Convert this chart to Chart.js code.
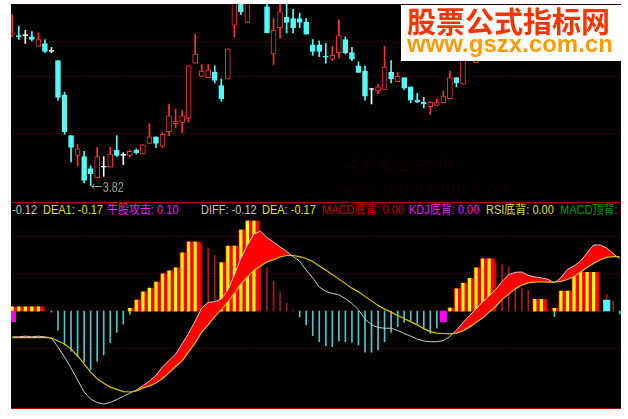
<!DOCTYPE html>
<html>
<head>
<meta charset="utf-8">
<script src="https://cdn.jsdelivr.net/npm/chart.js@4.4.1/dist/chart.umd.min.js"></script>
<style>
  html, body { margin: 0; padding: 0; background: #fff; }
  #wrap { position: absolute; left: 11px; top: 4px; width: 610px; height: 405px; background: #000; overflow: hidden; }
  #kline { position: absolute; left: -2px; top: 0; }
  #macd { position: absolute; left: -2px; top: 211px; }
  .rule { position: absolute; left: 0; width: 610px; height: 1px; background: #b00000; }
  #labels { position: absolute; left: 0; top: 199px; width: 700px; height: 14px; font: 12.5px "Liberation Sans", "Noto Sans CJK SC", sans-serif; line-height: 14px; white-space: nowrap; }
  #labels span { position: absolute; top: 0; transform: scaleX(0.88); transform-origin: 0 0; }
</style>
</head>
<body>
<div id="wrap">
  <canvas id="kline" width="614" height="198"></canvas>
  <div class="rule" style="top:198px"></div>
  <div id="labels">
    <span style="left:1px;color:#c8c8c8">-0.12</span>
    <span style="left:32px;color:#e0e000">DEA1: -0.17</span>
    <span style="left:96px;color:#f020f0">牛股攻击: 0.10</span>
    <span style="left:190px;color:#c8c8c8">DIFF: -0.12</span>
    <span style="left:251px;color:#e0e000">DEA: -0.17</span>
    <span style="left:311px;color:#d00000">MACD底背: 0.00</span>
    <span style="left:398px;color:#f020f0">KDJ底背: 0.00</span>
    <span style="left:475px;color:#e0e000">RSI底背: 0.00</span>
    <span style="left:549px;color:#00a000">MACD顶背: 0.00</span>
  </div>
  <canvas id="macd" width="614" height="193"></canvas>
  <div class="rule" style="top:404px"></div>
</div>
<script>
// price data (the last bars sit under the banner, not readable)
const open = [4.97, 4.96, 4.96, 4.95, 4.88, 4.90, 4.84, 4.77, 4.51, 4.20,
  4.05, 4.04, 3.95, 3.88, 3.96, 3.96, 4.09, 4.05, 4.05, 4.09,
  4.06, 4.14, 4.19, 4.12, 4.23, 4.29, 4.30, 4.33, 4.75, 4.65,
  4.64, 4.68, 4.58, 4.63, 5.04, 5.29, 5.06, 5.30, 5.40, 5.18,
  4.82, 5.02, 5.10, 5.09, 5.09, 5.06, 4.89, 4.89, 4.80, 4.78,
  4.83, 4.93, 4.83, 4.73, 4.69, 4.55, 4.54, 4.55, 4.68, 4.61,
  4.64, 4.57, 4.47, 4.455, 4.42, 4.43, 4.45, 4.48, 4.64, 4.59,
  4.85, 4.755];
const high = [5.12, 5.03, 5.00, 4.99, 4.98, 4.93, 4.87, 4.77, 4.53, 4.20,
  4.13, 4.08, 3.97, 4.11, 4.04, 4.11, 4.20, 4.07, 4.09, 4.10,
  4.13, 4.29, 4.19, 4.22, 4.44, 4.40, 4.39, 4.73, 4.97, 4.74,
  4.74, 4.73, 4.63, 4.86, 5.28, 5.32, 5.30, 5.45, 5.45, 5.24,
  5.09, 5.22, 5.22, 5.16, 5.13, 5.09, 4.93, 4.92, 4.90, 4.88,
  5.08, 4.95, 4.87, 4.76, 4.73, 4.56, 4.59, 4.88, 4.77, 4.68,
  4.64, 4.57, 4.52, 4.49, 4.46, 4.48, 4.54, 4.69, 4.64, 4.92,
  5.08, 5.00];
const low = [4.95, 4.93, 4.90, 4.92, 4.88, 4.83, 4.83, 4.47, 4.21, 4.00,
  3.97, 3.84, 3.82, 3.88, 3.89, 3.96, 4.04, 3.98, 4.04, 4.06,
  4.06, 4.14, 4.11, 4.11, 4.20, 4.26, 4.22, 4.30, 4.75, 4.65,
  4.64, 4.60, 4.46, 4.63, 4.95, 5.12, 5.06, 5.28, 5.25, 4.98,
  4.74, 4.94, 4.98, 4.98, 5.02, 4.97, 4.81, 4.80, 4.75, 4.77,
  4.79, 4.82, 4.77, 4.68, 4.47, 4.44, 4.52, 4.55, 4.60, 4.61,
  4.55, 4.45, 4.45, 4.41, 4.36, 4.43, 4.45, 4.48, 4.57, 4.59,
  4.82, 4.755];
const close = [4.98, 4.95, 4.96, 4.93, 4.93, 4.84, 4.84, 4.49, 4.23, 4.11,
  4.10, 3.86, 3.91, 4.04, 3.96, 4.06, 4.05, 4.05, 4.08, 4.07,
  4.13, 4.19, 4.14, 4.21, 4.35, 4.31, 4.35, 4.73, 4.82, 4.69,
  4.70, 4.62, 4.48, 4.86, 5.25, 5.14, 5.27, 5.40, 5.32, 4.98,
  5.00, 5.14, 5.06, 5.02, 5.06, 4.97, 4.84, 4.84, 4.795, 4.81,
  4.96, 4.83, 4.78, 4.68, 4.50, 4.55, 4.57, 4.72, 4.63, 4.65,
  4.56, 4.47, 4.455, 4.44, 4.455, 4.45, 4.50, 4.64, 4.60, 4.89,
  5.05, 4.95];
const priceGrid = [5.20, 4.92, 4.65, 4.22];

// indicator panel
const dif = [-0.069, -0.069, -0.067, -0.069, -0.067, -0.069, -0.072, -0.096, -0.123, -0.152,
  -0.184, -0.216, -0.235, -0.244, -0.248, -0.244, -0.236, -0.228, -0.219, -0.211,
  -0.199, -0.187, -0.172, -0.149, -0.132, -0.115, -0.088, -0.059, -0.027, 0.008,
  0.023, 0.025, 0.032, 0.056, 0.096, 0.141, 0.176, 0.205, 0.213, 0.196,
  0.184, 0.171, 0.159, 0.145, 0.133, 0.109, 0.088, 0.064, 0.052, 0.047,
  0.043, 0.033, 0.020, 0.003, -0.021, -0.037, -0.044, -0.046, -0.046, -0.052,
  -0.060, -0.067, -0.075, -0.080, -0.082, -0.082, -0.079, -0.068, -0.051, -0.031,
  -0.012, 0.005, 0.024, 0.040, 0.057, 0.079, 0.097, 0.103, 0.104, 0.095,
  0.091, 0.088, 0.085, 0.075, 0.089, 0.111, 0.120, 0.133, 0.155, 0.176,
  0.176, 0.168, 0.153, 0.139];
const dea = [-0.071, -0.071, -0.071, -0.071, -0.071, -0.071, -0.072, -0.080, -0.088, -0.101,
  -0.120, -0.141, -0.163, -0.181, -0.193, -0.203, -0.209, -0.215, -0.216, -0.213,
  -0.205, -0.200, -0.192, -0.180, -0.165, -0.148, -0.133, -0.109, -0.085, -0.056,
  -0.037, -0.015, 0.003, 0.024, 0.047, 0.072, 0.091, 0.109, 0.120, 0.131,
  0.137, 0.144, 0.148, 0.148, 0.145, 0.140, 0.132, 0.120, 0.109, 0.097,
  0.085, 0.073, 0.061, 0.051, 0.039, 0.027, 0.015, 0.005, -0.003, -0.012,
  -0.020, -0.029, -0.037, -0.047, -0.055, -0.059, -0.060, -0.061, -0.059, -0.053,
  -0.043, -0.031, -0.019, -0.003, 0.012, 0.031, 0.045, 0.059, 0.069, 0.075,
  0.077, 0.078, 0.077, 0.077, 0.079, 0.084, 0.092, 0.104, 0.116, 0.127,
  0.136, 0.143, 0.145, 0.145];
const macd = [0.005, 0.005, 0.006, 0.005, 0.006, 0.004,
  -0.003, -0.051, -0.091, -0.107, -0.123, -0.136, -0.156, -0.134, -0.117, -0.085, -0.057, -0.035, -0.009,
  0.01, 0.03, 0.05, 0.07, 0.09, 0.10, 0.11, 0.14, 0.17, 0.18,
  0.176, 0.168, 0.148, 0.12, 0.15, 0.16, 0.20, 0.22, 0.22, 0.16,
  0.115, 0.08, 0.051, 0.021, 0.003,
  -0.016, -0.037, -0.066, -0.082, -0.093, -0.095, -0.08, -0.082, -0.083, -0.091, -0.11,
  -0.11, -0.104, -0.082, -0.057, -0.042, -0.03, -0.027, -0.033, -0.048, -0.06, -0.046,
  -0.01,
  0.004, 0.05, 0.07, 0.08, 0.10, 0.12, 0.13,
  0.13, 0.123, 0.118, 0.074, 0.061, 0.056,
  0.03, 0.028, 0.005, -0.015,
  0.02, 0.045, 0.08, 0.09, 0.095, 0.10,
  0.003, 0.044, 0.025, -0.008];
// 牛股攻击 wide bars
const bullBars = [0.011, 0.011, 0.011, 0.011, 0.011,
  null, null, null, null, null, null, null, null, null, null, null, null, null,
  0.007, 0.029, 0.051, 0.061, 0.077, 0.099, 0.107, 0.115, 0.155, 0.184, 0.184,
  null, null, null,
  0.129, 0.173, 0.173, 0.216, 0.240, 0.240,
  null, null, null, null, null, null, null, null, null, null, null, null, null, null, null,
  null, null, null, null, null, null, null, null, null, null, null, null, null, null,
  0.008, 0.059, 0.074, 0.087, 0.115, 0.139, 0.139,
  null, null, null, null, null, null,
  0.031, 0.031,
  null,
  0.007, 0.053, 0.053, 0.103, 0.103, 0.103, 0.103,
  null, null, null, null];
const bottomSigAt = [0, 66];
const bottomSigVal = [-0.029, -0.029];
const topSigAt = [91];
const topSigVal = [0.029];
const macdGrid = [0.2, 0.1, -0.1];

const barCount = dif.length;
const UP = '#ff3232', DOWN = '#54fcfc', FLAT = '#ffffff';

function candleColor(i) {
  if (close[i] > open[i]) return UP;
  if (close[i] < open[i]) return DOWN;
  return FLAT;
}
function pts(arr) {
  return arr.map((v, i) => ({ x: i, y: v }));
}

function dotted(ctx, area, yScale, values) {
  ctx.save();
  ctx.strokeStyle = '#9a0000';
  ctx.lineWidth = 1;
  ctx.setLineDash([1, 3]);
  values.forEach(v => {
    const py = Math.round(yScale.getPixelForValue(v)) + 0.5;
    ctx.beginPath();
    ctx.moveTo(area.left, py);
    ctx.lineTo(area.right, py);
    ctx.stroke();
  });
  ctx.restore();
}

// ====== top: candles ======
const klineDecor = {
  id: 'klineDecor',
  beforeDatasetsDraw(chart) {
    const { ctx, chartArea, scales } = chart;
    dotted(ctx, chartArea, scales.y, priceGrid);
    // faint watermark
    ctx.save();
    ctx.fillStyle = '#120101';
    ctx.font = '18px "Noto Sans CJK SC"';
    ctx.fillText('买好股公式网', 334, 168, 114);
    ctx.font = '18px "Liberation Mono"';
    ctx.fillText('www.buyhaogu.com', 333, 191, 165);
    ctx.restore();
  },
  afterDatasetsDraw(chart) {
    const { ctx, scales } = chart;
    // lowest low marker
    let lo = 0;
    low.forEach((v, i) => { if (v < low[lo]) lo = i; });
    const px = scales.x.getPixelForValue(lo);
    const py = Math.round(scales.y.getPixelForValue(low[lo])) + 0.5;
    ctx.save();
    ctx.strokeStyle = '#8ea0a0';
    ctx.fillStyle = '#8ea0a0';
    ctx.lineWidth = 1;
    ctx.beginPath();
    ctx.moveTo(px + 1, py); ctx.lineTo(px + 11, py);
    ctx.moveTo(px + 1, py); ctx.lineTo(px + 4, py - 2.5);
    ctx.moveTo(px + 1, py); ctx.lineTo(px + 4, py + 2.5);
    ctx.stroke();
    ctx.font = '14px "Liberation Sans"';
    ctx.fillText(low[lo].toFixed(2), px + 12, py + 5, 21);
    // banner
    ctx.fillStyle = '#ffffff';
    ctx.fillRect(392, 1, 230, 56);
    ctx.fillStyle = '#ff3300';
    ctx.font = 'bold 29px "Noto Sans CJK SC"';
    ctx.fillText('股票公式指标网', 398, 29, 208);
    ctx.fillStyle = '#ff9900';
    ctx.font = 'bold 24px "Liberation Sans"';
    ctx.fillText('www.gszx.com.cn', 398, 48, 206);
    ctx.restore();
  }
};

new Chart(document.getElementById('kline'), {
  type: 'bar',
  data: {
    datasets: [{
      // wicks
      data: low.map((v, i) => ({ x: i, y: [v, high[i]] })),
      barThickness: 1,
      backgroundColor: c => candleColor(c.raw.x),
      order: 2
    }, {
      // bodies
      data: open.map((v, i) => ({ x: i, y: [v, close[i]] })),
      barThickness: 5,
      minBarLength: 1,
      borderWidth: 1,
      borderSkipped: false,
      borderColor: c => candleColor(c.raw.x),
      backgroundColor: c => {
        const col = candleColor(c.raw.x);
        return col === UP ? '#000000' : col;
      },
      order: 1
    }]
  },
  options: {
    responsive: false,
    animation: false,
    events: [],
    layout: { padding: 0 },
    datasets: { bar: { grouped: false } },
    plugins: { legend: { display: false }, tooltip: { enabled: false } },
    scales: {
      x: { type: 'linear', min: -0.5, max: barCount - 0.5, offset: false, display: false },
      y: { min: 3.6952, max: 5.20, display: false }
    }
  },
  plugins: [klineDecor]
});

// ====== bottom: MACD panel ======
const macdDecor = {
  id: 'macdDecor',
  beforeDatasetsDraw(chart) {
    dotted(chart.ctx, chart.chartArea, chart.scales.y, macdGrid);
  }
};

new Chart(document.getElementById('macd'), {
  type: 'bar',
  data: {
    datasets: [{
      data: pts(macd),
      barThickness: 1,
      backgroundColor: c => c.raw.y >= 0 ? '#a41c1c' : '#4cc8c8',
      order: 7
    }, {
      data: pts(bullBars),
      xAxisID: 'x2',
      barThickness: 7.4,
      backgroundColor: '#ff0000',
      order: 6
    }, {
      data: pts(bullBars),
      barThickness: 2.5,
      backgroundColor: '#ffff00',
      order: 5
    }, {
      data: bottomSigAt.map((x, k) => ({ x: x, y: bottomSigVal[k] })),
      barThickness: 6.5,
      backgroundColor: '#ff00ff',
      order: 4
    }, {
      data: topSigAt.map((x, k) => ({ x: x, y: topSigVal[k] })),
      barThickness: 6.5,
      backgroundColor: '#54fcfc',
      order: 4
    }, {
      type: 'line',
      data: pts(dif),
      borderColor: '#c4d0d0',
      borderWidth: 1,
      pointRadius: 0,
      fill: { target: 6, above: '#ff0000', below: 'rgba(0,0,0,0)' },
      order: 1
    }, {
      type: 'line',
      data: pts(dea),
      borderColor: '#d8c400',
      borderWidth: 1.2,
      pointRadius: 0,
      fill: false,
      order: 0
    }]
  },
  options: {
    responsive: false,
    animation: false,
    events: [],
    layout: { padding: 0 },
    datasets: { bar: { grouped: false } },
    plugins: { legend: { display: false }, tooltip: { enabled: false } },
    scales: {
      x: { type: 'linear', min: -0.5, max: barCount - 0.5, offset: false, display: false },
      x2: { type: 'linear', min: -0.76, max: barCount - 0.76, offset: false, display: false },
      y: { min: -0.2587, max: 0.256, display: false }
    }
  },
  plugins: [macdDecor]
});
</script>
</body>
</html>
